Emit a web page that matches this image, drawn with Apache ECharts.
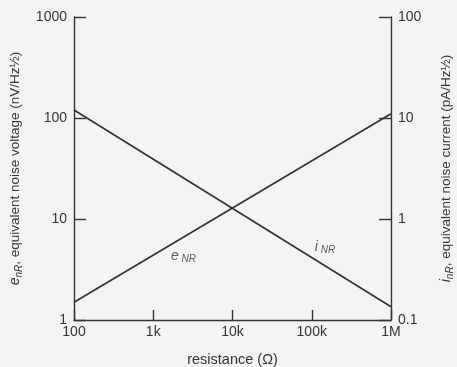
<!DOCTYPE html>
<html>
<head>
<meta charset="utf-8">
<script src="https://cdn.jsdelivr.net/npm/echarts@6/dist/echarts.min.js"></script>
<style>
  html, body { margin: 0; padding: 0; background: #f3f3f1; }
  #chart { width: 457px; height: 367px; }
</style>
</head>
<body>
<div id="chart"></div>
<script>
// Resistance (ohms) at the two ends of each line
const resistance = [100, 1e6];
// Thermal noise voltage density, nV/Hz^1/2
const eNR = [1.5, 110];
// Thermal noise current density, pA/Hz^1/2
const iNR = [12, 0.135];

const xTickLabels = { 100: '100', 1000: '1k', 10000: '10k', 100000: '100k', 1000000: '1M' };
const leftTickLabels = { 1: '1', 10: '10', 100: '100', 1000: '1000' };
const rightTickLabels = { 0.1: '0.1', 1: '1', 10: '10', 100: '100' };

// Where the curve names sit, in data units
const eLabelAt = [2400, 4.3];
const iLabelAt = [147000, 0.53];

const ink = '#333333';
const font = 'Liberation Sans';

function lookup(table, v) {
  for (const k in table) {
    if (Math.abs(Math.log10(v) - Math.log10(+k)) < 1e-6) return table[k];
  }
  return '';
}

const rich = {
  v: { fontFamily: font, fontSize: 14, fontStyle: 'italic', color: ink },
  s: { fontFamily: font, fontSize: 10, fontStyle: 'italic', color: ink, verticalAlign: 'bottom', padding: [7, 0, 0, 0] },
  t: { fontFamily: font, fontSize: 13.5, color: ink }
};

const tickText = { fontFamily: font, fontSize: 14, color: ink };

const chart = echarts.init(document.getElementById('chart'));
chart.setOption({
  backgroundColor: '#f3f3f1',
  animation: false,
  grid: { left: 74, right: 66, top: 17, bottom: 47, containLabel: false, outerBoundsMode: 'none' },
  xAxis: {
    type: 'log', logBase: 10, min: 100, max: 1e6,
    name: 'resistance (Ω)', nameLocation: 'middle', nameGap: 32,
    nameTextStyle: { fontFamily: font, fontSize: 14.5, color: ink },
    axisLine: { lineStyle: { color: ink, width: 1.4 } },
    axisTick: { inside: true, length: 10, lineStyle: { color: ink, width: 1.4 } },
    minorTick: { show: false },
    splitLine: { show: false },
    axisLabel: Object.assign({ margin: 5, formatter: v => lookup(xTickLabels, v) }, tickText)
  },
  yAxis: [
    {
      type: 'log', logBase: 10, min: 1, max: 1000, position: 'left',
      name: '{v|e}{s|nR}{t|, equivalent noise voltage (nV/Hz½)}',
      nameLocation: 'middle', nameGap: 50, nameRotate: 90,
      nameTextStyle: { rich: rich },
      axisLine: { show: true, lineStyle: { color: ink, width: 1.4 } },
      axisTick: { inside: true, length: 12, lineStyle: { color: ink, width: 1.4 } },
      splitLine: { show: false },
      axisLabel: Object.assign({ margin: 7, formatter: v => lookup(leftTickLabels, v) }, tickText)
    },
    {
      type: 'log', logBase: 10, min: 0.1, max: 100, position: 'right',
      name: '{v|i}{s|nR}{t|, equivalent noise current (pA/Hz½)}',
      nameLocation: 'middle', nameGap: 47, nameRotate: 90,
      nameTextStyle: { rich: rich },
      axisLine: { show: true, lineStyle: { color: ink, width: 1.4 } },
      axisTick: { inside: true, length: 12, lineStyle: { color: ink, width: 1.4 } },
      splitLine: { show: false },
      axisLabel: Object.assign({ margin: 7, formatter: v => lookup(rightTickLabels, v) }, tickText)
    }
  ],
  series: [
    {
      name: 'eNR', type: 'line', yAxisIndex: 0,
      data: resistance.map((r, k) => [r, eNR[k]]),
      symbol: 'none', lineStyle: { color: ink, width: 1.7 }
    },
    {
      name: 'iNR', type: 'line', yAxisIndex: 1,
      data: resistance.map((r, k) => [r, iNR[k]]),
      symbol: 'none', lineStyle: { color: ink, width: 1.7 }
    },
    {
      type: 'scatter', yAxisIndex: 0, symbolSize: 0, silent: true,
      data: [eLabelAt],
      label: { show: true, position: 'inside', formatter: '{v|e}{s| NR}', rich: rich }
    },
    {
      type: 'scatter', yAxisIndex: 1, symbolSize: 0, silent: true,
      data: [iLabelAt],
      label: { show: true, position: 'inside', formatter: '{v|i}{s| NR}', rich: rich }
    }
  ]
});
</script>
</body>
</html>
